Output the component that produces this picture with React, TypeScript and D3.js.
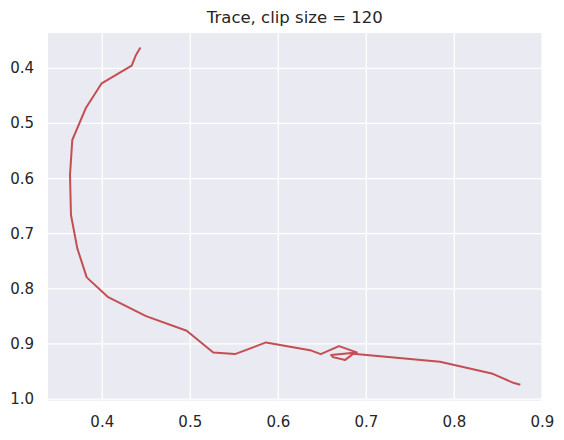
import React from "react";
import * as d3 from "d3";

const traceX = [
  0.4428, 0.4383, 0.4334, 0.3993, 0.3815, 0.3659, 0.3633, 0.3644, 0.3716, 0.3823,
  0.4061, 0.4497, 0.4959, 0.5261, 0.5508, 0.586, 0.636, 0.6482, 0.669, 0.6891,
  0.66, 0.662, 0.676, 0.685, 0.7837, 0.8425, 0.867, 0.8739,
];
const traceY = [
  0.3637, 0.3759, 0.3953, 0.4272, 0.4715, 0.5301, 0.5936, 0.6662, 0.7267, 0.7793,
  0.8145, 0.8495, 0.8762, 0.9154, 0.9185, 0.8973, 0.9113, 0.9185, 0.904, 0.9154,
  0.92, 0.924, 0.929, 0.918, 0.9325, 0.9535, 0.9706, 0.9735,
];
const xTicks = [0.4, 0.5, 0.6, 0.7, 0.8, 0.9];
const yTicks = [0.4, 0.5, 0.6, 0.7, 0.8, 0.9, 1.0];
const title = "Trace, clip size = 120";

const W = 564;
const H = 440;
const left = 48;
const right = 541.7;
const top = 33;
const bottom = 400.7;

export default function App() {
  const x = d3.scaleLinear().domain([0.3383, 0.8993]).range([left, right]);
  const y = d3.scaleLinear().domain([0.336, 1.003]).range([top, bottom]);
  const pts: [number, number][] = traceX.map((v, i) => [v, traceY[i]]);
  const line = d3
    .line<[number, number]>()
    .x((d) => x(d[0]))
    .y((d) => y(d[1]));
  const font = "'DejaVu Sans', sans-serif";
  return (
    <svg
      width={W}
      height={H}
      style={{ position: "absolute", left: 0, top: 0, background: "#fff" }}
    >
      <rect x={left} y={top} width={right - left} height={bottom - top} fill="#EAEAF2" />
      <g>
        {xTicks.map((t) => (
          <line
            key={"gx" + t}
            x1={x(t)}
            x2={x(t)}
            y1={top}
            y2={bottom}
            stroke="#fff"
            strokeWidth={1.25}
          />
        ))}
        {yTicks.map((t) => (
          <line
            key={"gy" + t}
            x1={left}
            x2={right}
            y1={y(t)}
            y2={y(t)}
            stroke="#fff"
            strokeWidth={1.25}
          />
        ))}
      </g>
      <path
        d={line(pts) || ""}
        fill="none"
        stroke="#C44E52"
        strokeWidth={2}
        strokeLinejoin="round"
        strokeLinecap="square"
      />
      <g fontFamily={font} fontSize={15} fill="#262626">
        {xTicks.map((t) => (
          <text key={"tx" + t} x={x(t)} y={427} textAnchor="middle">
            {d3.format(".1f")(t)}
          </text>
        ))}
        {yTicks.map((t) => (
          <text
            key={"ty" + t}
            x={34}
            y={y(t)}
            textAnchor="end"
            dominantBaseline="central"
          >
            {d3.format(".1f")(t)}
          </text>
        ))}
      </g>
      <text
        x={(left + right) / 2}
        y={23}
        textAnchor="middle"
        fontFamily={font}
        fontSize={16.5}
        fill="#262626"
      >
        {title}
      </text>
    </svg>
  );
}
